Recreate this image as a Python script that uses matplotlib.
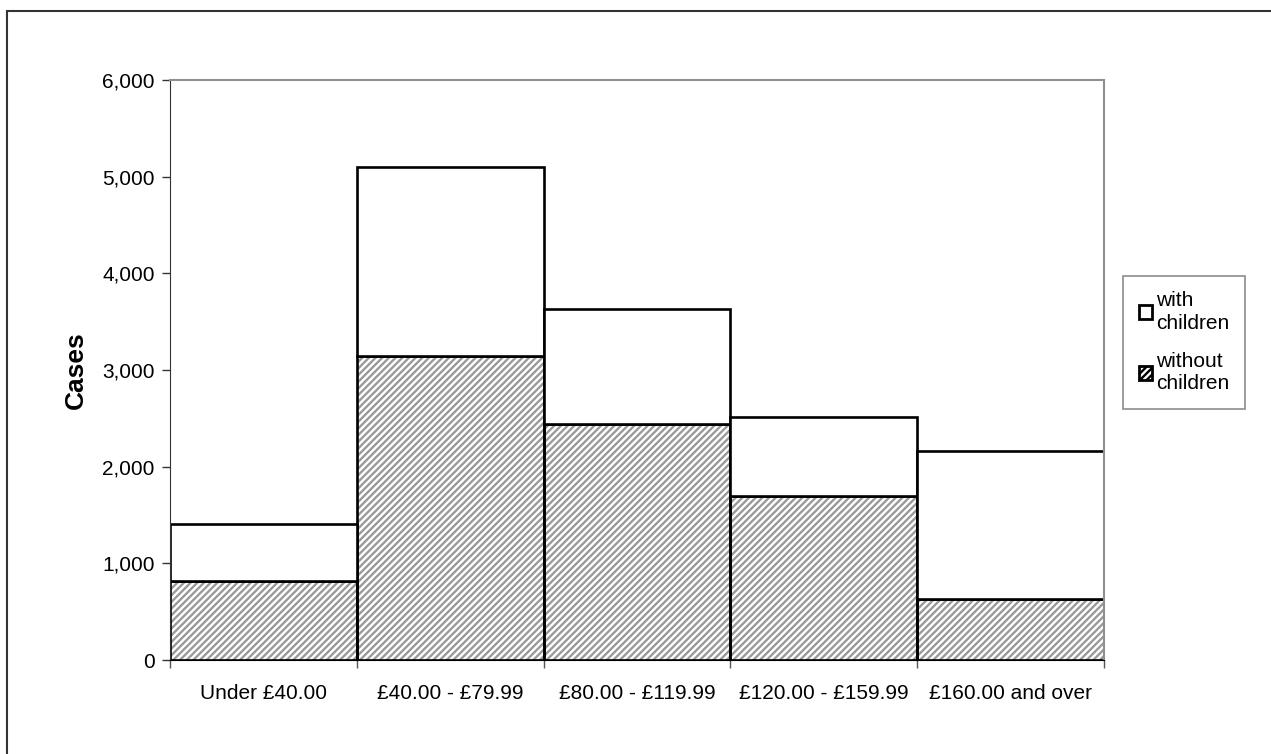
import matplotlib
matplotlib.use("Agg")
import matplotlib.pyplot as plt
from matplotlib.patches import Patch, Rectangle
from matplotlib.ticker import FuncFormatter

# values
bands = ["Under £40.00", "£40.00 - £79.99", "£80.00 - £119.99", "£120.00 - £159.99", "£160.00 and over"]
without_children = [815, 3140, 2445, 1700, 630]
total_cases = [1405, 5095, 3630, 2515, 2165]
with_children = [t - w for t, w in zip(total_cases, without_children)]

plt.rcParams["font.family"] = ["Liberation Sans", "DejaVu Sans"]
plt.rcParams["hatch.linewidth"] = 1.7
plt.rcParams["hatch.color"] = "#9a9a9a"

W, H = 1271, 754
fig = plt.figure(figsize=(W / 100, H / 100), dpi=100)
ax = fig.add_axes([170 / W, 1 - 660 / H, (1104 - 170) / W, (660 - 80) / H])

x = list(range(len(bands)))
# hatched part (without children), then white part on top
ax.bar(x, without_children, width=1.0, color="white", hatch="/////", edgecolor="#9a9a9a", linewidth=0)
ax.bar(x, without_children, width=1.0, fill=False, edgecolor="black", linewidth=1.9)
ax.bar(x, with_children, bottom=without_children, width=1.0, color="white", edgecolor="black", linewidth=1.9)

ax.set_xlim(-0.5, len(bands) - 0.5)
ax.set_ylim(0, 6000)
ax.set_yticks(range(0, 6001, 1000))
ax.yaxis.set_major_formatter(FuncFormatter(lambda v, p: f"{int(v):,}"))
ax.set_xticks(x)
ax.set_xticklabels(bands)
ax.tick_params(axis="x", which="major", length=0, pad=17, labelsize=15)
ax.set_xticks([i - 0.5 for i in range(len(bands) + 1)], minor=True)
ax.tick_params(axis="x", which="minor", length=6, width=1, color="#555555", direction="out")
ax.tick_params(axis="y", length=6, width=1, color="#333333", direction="out", pad=5, labelsize=15)

for side in ["top", "right"]:
    ax.spines[side].set_color("#909090")
    ax.spines[side].set_linewidth(1.5)
ax.spines["left"].set_color("#333333")
ax.spines["bottom"].set_color("black")

ax.set_ylabel("Cases", fontsize=19, fontweight="bold", labelpad=10)

handles = [
    Patch(facecolor="white", edgecolor="black", linewidth=2, label="with\nchildren"),
    Patch(facecolor="white", edgecolor="black", hatch="/////", linewidth=2, label="without\nchildren"),
]
leg = fig.legend(handles=handles, loc="lower left", bbox_to_anchor=(1123 / W, 1 - 409 / H),
                 fontsize=15, frameon=True, fancybox=False, edgecolor="#707070",
                 handlelength=0.65, handleheight=0.65, handletextpad=0.2,
                 labelspacing=0.9, borderpad=0.75, borderaxespad=0)
leg.get_frame().set_linewidth(1.2)
for t in leg.get_texts():
    t.set_linespacing(1.25)

# outer chart border (right and bottom edges fall outside the image)
fig.patches.append(Rectangle((7 / W, -0.05), 1.1, 1 - 11 / H + 0.05, transform=fig.transFigure,
                             fill=False, edgecolor="#333333", linewidth=1.5))

fig.savefig("out.png", dpi=100)
